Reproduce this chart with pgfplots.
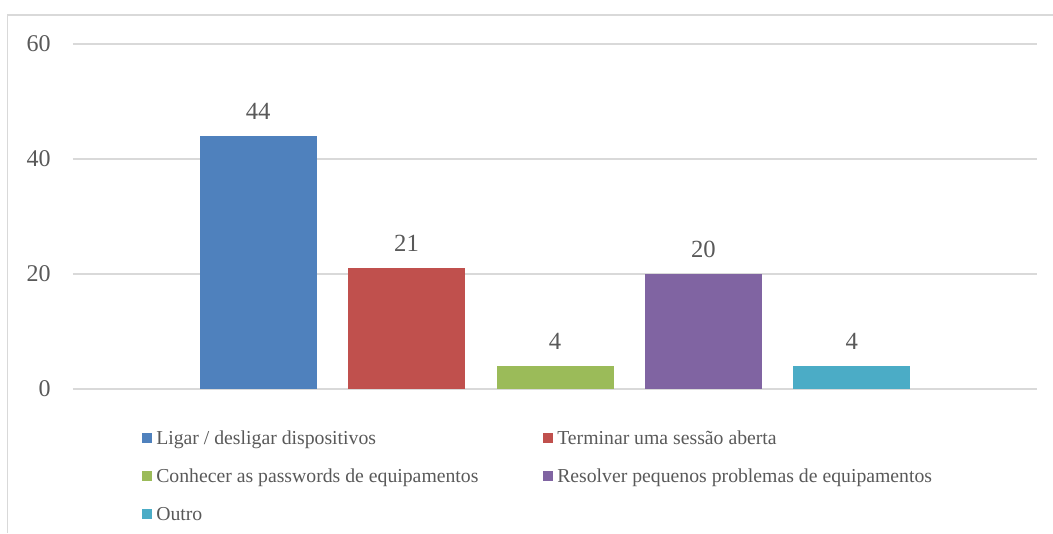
\documentclass[border=0pt]{standalone}
\usepackage{pgfplots}
\pgfplotsset{compat=1.18}
\usepackage{fontspec}
\setmainfont{Liberation Serif}
\definecolor{c1}{HTML}{4F81BD}
\definecolor{c2}{HTML}{C0504D}
\definecolor{c3}{HTML}{9BBB59}
\definecolor{c4}{HTML}{8064A2}
\definecolor{c5}{HTML}{4BACC6}
\definecolor{txt}{HTML}{595959}
\definecolor{gridc}{HTML}{D9D9D9}
\pgfplotsset{
  sq/.style={legend image code/.code={\fill[##1,draw=none] (0pt,-3.75pt) rectangle (7.5pt,3.75pt);}},
}
\begin{document}
\begin{tikzpicture}
\useasboundingbox (0pt,0pt) rectangle (789.75pt,399.75pt);
\draw[gridc, line width=1.1pt] (5.6pt,0pt) -- (5.6pt,388.5pt) -- (789.75pt,388.5pt);
\begin{axis}[
  at={(54.75pt,108pt)}, anchor=south west,
  scale only axis, width=723pt, height=258.75pt,
  xmin=-1.247, xmax=5.247, ymin=0, ymax=60,
  ytick={0,20,40,60}, xtick=\empty,
  ymajorgrids, grid style={gridc, line width=1pt},
  axis line style={draw=none}, major tick length=0pt,
  /pgf/number format/assume math mode=true,
  yticklabel style={font=\fontsize{18}{20}\selectfont, text=txt, anchor=east, inner sep=0pt, xshift=-16.5pt},
  ybar, bar width=87.75pt,
  nodes near coords,
  nodes near coords style={font=\fontsize{18.5}{20}\selectfont, text=txt, anchor=base, inner sep=0pt, yshift=12.75pt},
  legend columns=2,
  legend cell align=left,
  legend style={at={(0.07158,-0.1053)}, anchor=north west, draw=none, fill=none,
    inner xsep=0pt, inner ysep=0pt, row sep=9.5pt,
    font=\fontsize{14.8}{16}\selectfont, text=txt,
    nodes={inner sep=3pt, text height=11pt, text depth=2pt},
    cells={anchor=west}},
]
\addplot[fill=c1, draw=none, bar shift=0pt, sq] coordinates {(0,44)};
\addplot[fill=c2, draw=none, bar shift=0pt, sq] coordinates {(1,21)};
\addplot[fill=c3, draw=none, bar shift=0pt, sq] coordinates {(2,4)};
\addplot[fill=c4, draw=none, bar shift=0pt, sq] coordinates {(3,20)};
\addplot[fill=c5, draw=none, bar shift=0pt, sq] coordinates {(4,4)};
\legend{\makebox[287.25pt][l]{Ligar / desligar dispositivos}, Terminar uma sessão aberta, \makebox[287.25pt][l]{Conhecer as passwords de equipamentos}, Resolver pequenos problemas de equipamentos, Outro}
\end{axis}
\end{tikzpicture}
\end{document}
